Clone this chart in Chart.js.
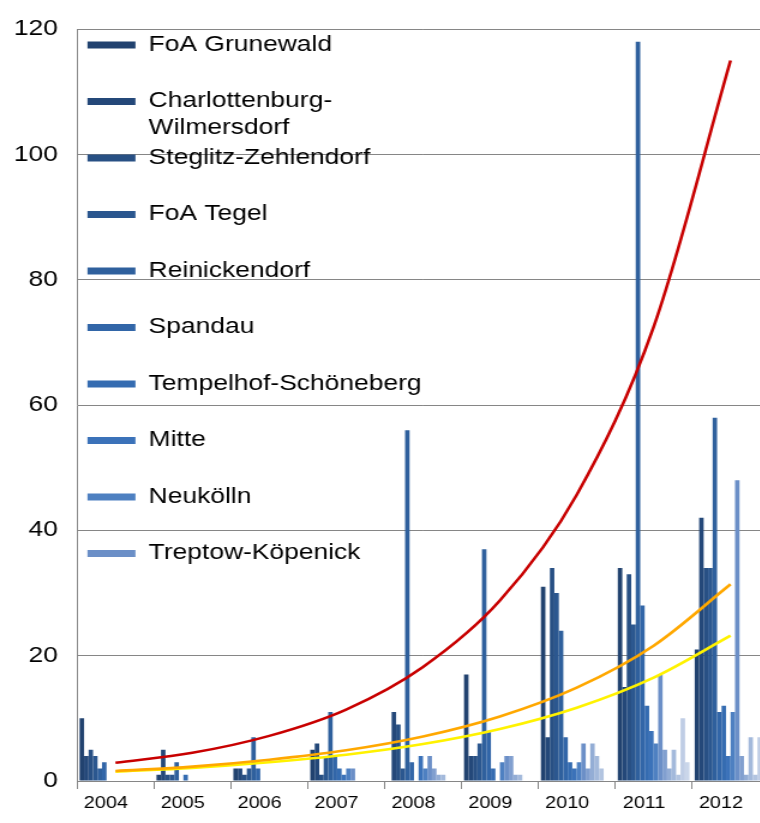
<!DOCTYPE html>
<html><head><meta charset="utf-8">
<script src="https://cdn.jsdelivr.net/npm/chart.js@4.4.1/dist/chart.umd.min.js"></script>
<style>
html,body{margin:0;padding:0;overflow:hidden;background:#fff;width:760px;height:823px;}
#wrap{position:absolute;left:0;top:0;width:650px;height:823px;transform:scaleX(1.2);transform-origin:0 0;}
canvas{display:block;}
</style></head><body>
<div id="wrap"><canvas id="c" width="650" height="823" style="width:650px;height:823px"></canvas></div>
<script>
// Categories
const years = ['2004','2005','2006','2007','2008','2009','2010','2011','2012'];

// Series names (only the first ten are shown in the legend of the original)
const districts = ['FoA Grunewald','Charlottenburg-Wilmersdorf','Steglitz-Zehlendorf','FoA Tegel','Reinickendorf','Spandau','Tempelhof-Schöneberg','Mitte','Neukölln','Treptow-Köpenick','FoA Köpenick','Lichtenberg','Marzahn-Hellersdorf','Pankow','FoA Pankow','Friedrichshain-Kreuzberg'];

// Series values (2004 ... 2012)
const foaGrunewald   = [10, 1, 2, 5, 0, 17, 31, 34, 21];
const charlottenburg = [ 4, 5, 2, 6, 11, 4, 7, 15, 42];
const steglitz       = [ 5, 1, 1, 1, 9, 4, 34, 33, 34];
const foaTegel       = [ 4, 1, 2, 4, 2, 6, 30, 25, 34];
const reinickendorf  = [ 2, 3, 7, 11, 56, 37, 24, 118, 58];
const spandau        = [ 3, 0, 2, 4, 3, 8, 7, 28, 11];
const tempelhof      = [ 0, 1, 0, 2, 0, 2, 3, 12, 12];
const mitte          = [ 0, 0, 0, 1, 4, 0, 2, 8, 4];
const neukoelln      = [ 0, 0, 0, 2, 2, 3, 3, 6, 11];
const treptow        = [ 0, 0, 0, 2, 4, 4, 6, 17, 48];
const series11       = [ 0, 0, 0, 0, 2, 4, 2, 5, 4];
const series12       = [ 0, 0, 0, 0, 1, 1, 6, 2, 1];
const series13       = [ 0, 0, 0, 0, 1, 1, 4, 5, 7];
const series14       = [ 0, 0, 0, 0, 0, 0, 2, 1, 1];
const series15       = [ 0, 0, 0, 0, 0, 0, 0, 10, 7];
const series16       = [ 0, 0, 0, 0, 0, 0, 0, 3, 0];

// Trend curves read at each year
const trendRed    = [2.9, 4.5, 7.2, 11.4, 18.2, 28.8, 45.7, 72.5, 115];
const trendOrange = [1.6, 2.3, 3.4, 4.9, 7.1, 10.3, 14.9, 21.6, 31.4];
const trendYellow = [1.5, 2.1, 3.0, 4.2, 5.9, 8.3, 11.7, 16.5, 23.2];

// Y tick values
const yTicks = [0, 20, 40, 60, 80, 100, 120];

const seriesValues = [foaGrunewald, charlottenburg, steglitz, foaTegel, reinickendorf, spandau, tempelhof, mitte, neukoelln, treptow, series11, series12, series13, series14, series15, series16];
const barColors = ['#21426F','#244879','#285084','#2B578F','#2F609D','#3266A8','#356CB1','#3B72B9','#4E80C1','#6B8FC7','#819FCF','#93ADD5','#A3B9DB','#B2C4E0','#BFCDE5','#CAD6EA'];

const datasets = seriesValues.map((vals, i) => ({
  type: 'bar',
  label: districts[i],
  data: vals,
  backgroundColor: barColors[i],
  borderWidth: 0,
  order: 1,
  barPercentage: 1.0,
  categoryPercentage: 0.933
}));
[[trendRed,'#C80000'],[trendOrange,'#FFA800'],[trendYellow,'#FFF200']].forEach(([vals,col],k) => {
  datasets.push({
    type: 'line',
    label: 'Trend ' + (k+1),
    data: vals,
    borderColor: col,
    borderWidth: 2.6,
    pointRadius: 0,
    fill: false,
    cubicInterpolationMode: 'monotone',
    order: -1
  });
});

const FONT = "'Liberation Sans', Arial, sans-serif";

const shiftLegend = {
  id: 'shiftLegend',
  afterLayout(chart) {
    chart.legend.left = chart.chartArea.left + 5;
    chart.legend.top = chart.chartArea.top + 1;
  }
};

new Chart(document.getElementById('c'), {
  data: { labels: years, datasets },
  plugins: [shiftLegend],
  options: {
    responsive: false,
    animation: false,
    layout: { padding: { top: 21, right: 9.2, bottom: 6, left: 0 } },
    plugins: {
      tooltip: { enabled: false },
      legend: {
        position: 'chartArea',
        align: 'start',
        labels: {
          font: { family: FONT, size: 22 },
          color: '#000',
          boxWidth: 40,
          boxHeight: 7,
          padding: 3.7,
          filter: (item) => item.datasetIndex < 10,
          generateLabels(chart) {
            const items = Chart.defaults.plugins.legend.labels.generateLabels(chart);
            items.forEach(it => {
              const t = it.text;
              if (t.length > 21 && t.indexOf('-') > 0) {
                const p = t.indexOf('-') + 1;
                it.text = [t.slice(0, p), t.slice(p)];
              } else {
                it.text = [t, ''];
              }
              it.lineWidth = 0;
            });
            return items;
          }
        }
      }
    },
    scales: {
      x: {
        type: 'category',
        offset: true,
        grid: { display: true, drawOnChartArea: false, drawTicks: true, tickLength: 8, offset: true, color: '#868686' },
        border: { color: '#868686', width: 1 },
        ticks: { font: { family: FONT, size: 16.5 }, color: '#000', padding: 5, maxRotation: 0, autoSkip: false, labelOffset: -8 },
        afterFit(s) { s.height = 36; }
      },
      y: {
        min: 0, max: 120,
        afterBuildTicks(s) { s.ticks = yTicks.map(v => ({ value: v })); },
        grid: { color: '#868686', drawTicks: false, lineWidth: 1 },
        border: { color: '#868686', width: 1 },
        ticks: { font: { family: FONT, size: 22 }, color: '#000', padding: 16 },
        afterFit(s) { s.width = 64.17; }
      }
    }
  }
});
</script>
</body></html>
